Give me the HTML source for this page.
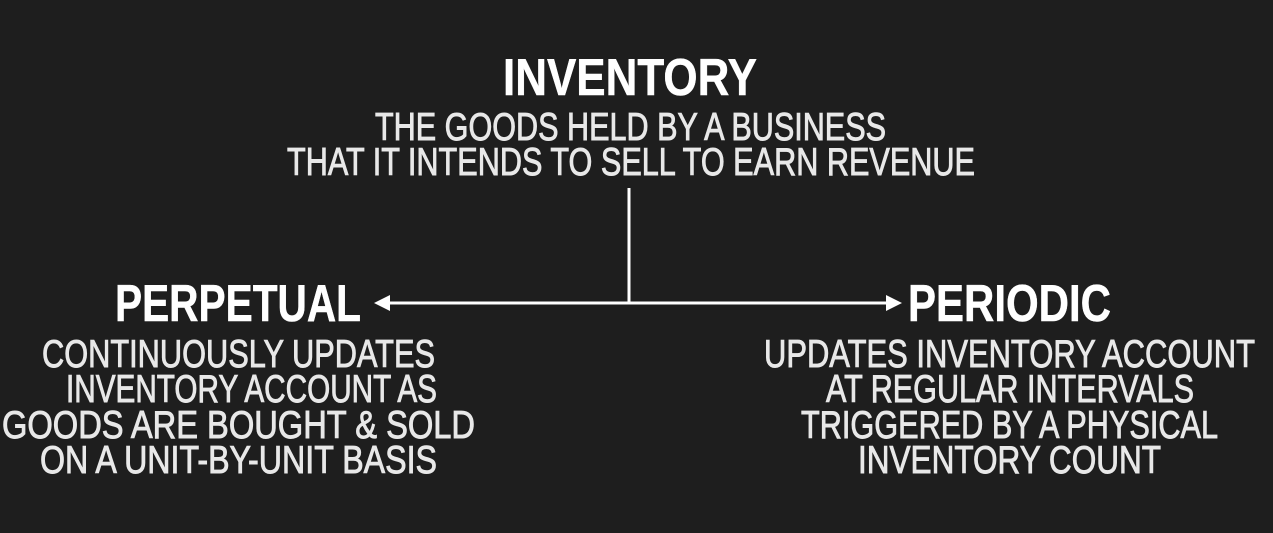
<!DOCTYPE html>
<html><head><meta charset="utf-8"><style>
html,body{margin:0;padding:0;background:#1e1e1e;}
svg{display:block}
text{font-family:"Liberation Sans",sans-serif;fill:#e8e8e8;stroke:#e8e8e8;stroke-width:0.9;}
.b{font-weight:bold;fill:#fff;stroke:#fff;stroke-width:0.5}
</style></head><body>
<svg width="1273" height="533" viewBox="0 0 1273 533" xmlns="http://www.w3.org/2000/svg">
<rect width="1273" height="533" fill="#1e1e1e"/>
<text class="b" x="503" y="95" font-size="52" textLength="254" lengthAdjust="spacingAndGlyphs">INVENTORY</text>
<text x="375" y="140" font-size="39" textLength="511" lengthAdjust="spacingAndGlyphs">THE GOODS HELD BY A BUSINESS</text>
<text x="287" y="175" font-size="39" textLength="688" lengthAdjust="spacingAndGlyphs">THAT IT INTENDS TO SELL TO EARN REVENUE</text>
<line x1="629" y1="188" x2="629" y2="303" stroke="#fff" stroke-width="3"/>
<line x1="385" y1="303" x2="892" y2="303" stroke="#fff" stroke-width="3"/>
<polygon points="374,303 390,295 390,311" fill="#fff"/>
<polygon points="902,303 886,295 886,311" fill="#fff"/>
<text class="b" x="115" y="321" font-size="52" textLength="246" lengthAdjust="spacingAndGlyphs">PERPETUAL</text>
<text class="b" x="908" y="321" font-size="52" textLength="203" lengthAdjust="spacingAndGlyphs">PERIODIC</text>
<text x="42" y="367" font-size="39" textLength="393" lengthAdjust="spacingAndGlyphs">CONTINUOUSLY UPDATES</text>
<text x="66" y="402" font-size="39" textLength="371" lengthAdjust="spacingAndGlyphs">INVENTORY ACCOUNT AS</text>
<text x="2" y="438" font-size="39" textLength="473" lengthAdjust="spacingAndGlyphs">GOODS ARE BOUGHT &amp; SOLD</text>
<text x="40" y="473" font-size="39" textLength="397" lengthAdjust="spacingAndGlyphs">ON A UNIT-BY-UNIT BASIS</text>
<text x="764" y="367" font-size="39" textLength="491" lengthAdjust="spacingAndGlyphs">UPDATES INVENTORY ACCOUNT</text>
<text x="826" y="402" font-size="39" textLength="368" lengthAdjust="spacingAndGlyphs">AT REGULAR INTERVALS</text>
<text x="801" y="438" font-size="39" textLength="417" lengthAdjust="spacingAndGlyphs">TRIGGERED BY A PHYSICAL</text>
<text x="858" y="473" font-size="39" textLength="303" lengthAdjust="spacingAndGlyphs">INVENTORY COUNT</text>
</svg>
</body></html>
